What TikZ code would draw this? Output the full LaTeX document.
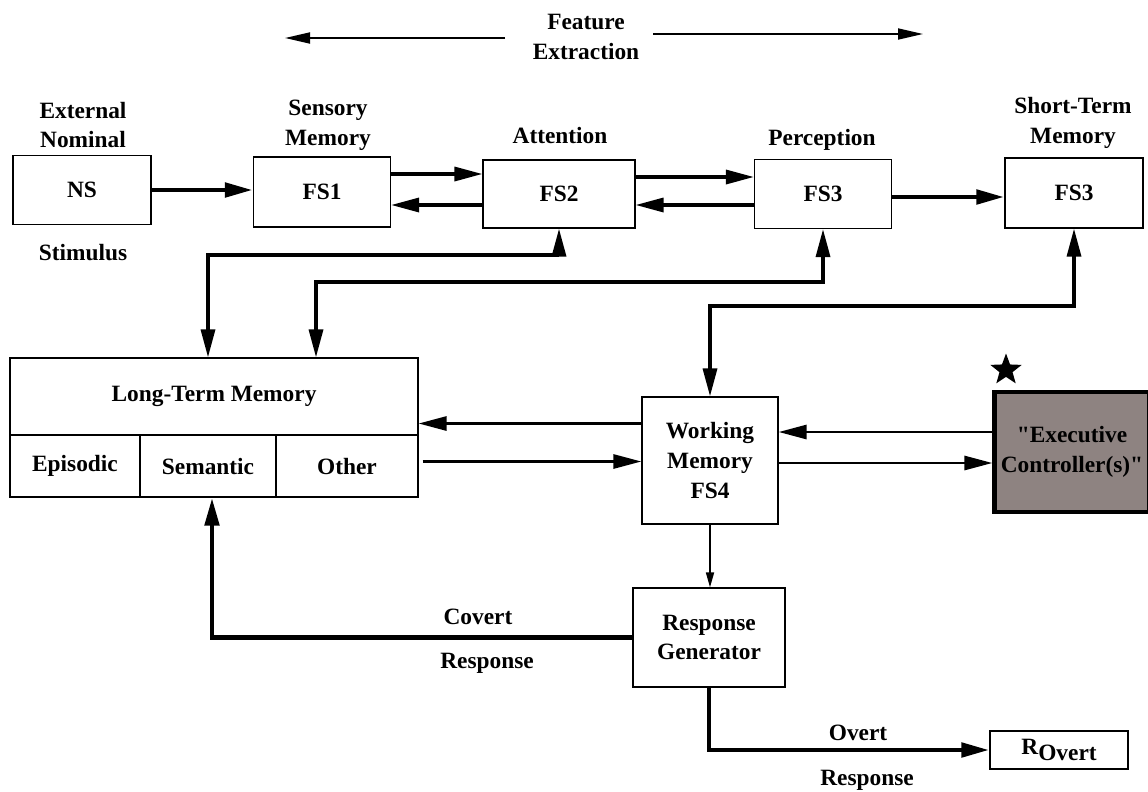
\documentclass[tikz,border=0pt]{standalone}
\usepackage{fontspec}
\setmainfont{Liberation Serif}[Ligatures=TeXOff]
\usepackage{tikz}
\usetikzlibrary{arrows.meta,shapes.geometric}
\definecolor{execgrey}{RGB}{142,131,129}

\begin{document}
\begin{tikzpicture}[x=0.02cm, y=-0.02cm, >={Triangle[length=0.56cm,width=0.28cm]},
    every node/.style={font=\fontsize{13.3}{17}\selectfont\bfseries},
    box/.style={draw, rectangle, line width=0.7pt, align=center, inner sep=0pt},
    lbl/.style={align=center, inner sep=0pt},
    heavy/.style={->, line width=2.8pt},
    medium/.style={->, line width=1.9pt},
    light/.style={->, line width=1pt}]
    \useasboundingbox (0,0) rectangle (1148,791);

    % top row
    \node [box, minimum width=2.76cm, minimum height=1.38cm] (NS) at (82,190) {NS};
    \node [box, minimum width=2.74cm, minimum height=1.40cm] (FS1) at (322,192) {FS1};
    \node [box, minimum width=3.04cm, minimum height=1.36cm] (FS2) at (559,194) {FS2};
    \node [box, minimum width=2.74cm, minimum height=1.38cm] (FS3) at (823,194) {FS3};
    \node [box, minimum width=2.76cm, minimum height=1.40cm] (STM) at (1074,193) {FS3};

    \node [lbl] (ext) at (83,125) {External\\Nominal};
    \node [lbl] (stim) at (83,253) {Stimulus};
    \node [lbl] (sens) at (328,125) {Sensory\\Memory};
    \node [lbl] (att) at (560,136) {Attention};
    \node [lbl] (perc) at (822,140) {Perception};
    \node [lbl] (stmlbl) at (1073,123) {Short-Term\\Memory};
    \node [lbl] (feat) at (586,37) {Feature\\Extraction};

    % long-term memory
    \node [box, minimum width=8.16cm, minimum height=1.54cm] (LTM) at (214,396.5) {Long-Term Memory};
    \node [box, minimum width=2.60cm, minimum height=1.24cm] (EPI) at (75,466) {Episodic};
    \node [box, minimum width=2.72cm, minimum height=1.24cm] (SEM) at (208,466) {Semantic};
    \node [box, minimum width=2.84cm, minimum height=1.24cm] (OTH) at (347,466) {Other};

    % working memory and controllers
    \node [box, minimum width=2.72cm, minimum height=2.54cm] (WM) at (710,460.5) {Working\\Memory\\FS4};
    \node [box, line width=2.4pt, fill=execgrey, minimum width=3.1cm, minimum height=2.4cm] (EC) at (1072,452) {"Executive\\Controller(s)"};
    \node [star, star points=5, star point ratio=2.4, fill=black, inner sep=0pt, minimum size=0.66cm] (STAR) at (1006,370) {};

    % responses
    \node [box, minimum width=3.04cm, minimum height=1.98cm] (RG) at (709,637.5) {Response\\Generator};
    \node [box, minimum width=2.76cm, minimum height=0.76cm] (ROV) at (1059,750) {R\raisebox{-0.5ex}{Overt}};
    \node [lbl] (cov) at (478,617) {Covert};
    \node [lbl] (covr) at (487,663) {Response};
    \node [lbl] (ov) at (858,733) {Overt};
    \node [lbl] (ovr) at (867,780) {Response};

    % feature extraction arrows
    \coordinate (fl1) at (505,38);
    \coordinate (fl2) at (285,38);
    \coordinate (fr1) at (653,34);
    \coordinate (fr2) at (923,34);
    \draw [light, >={Triangle[length=0.5cm,width=0.22cm]}] (fl1) -- (fl2);
    \draw [light, >={Triangle[length=0.5cm,width=0.22cm]}] (fr1) -- (fr2);

    \draw [heavy] (NS.east) -- (NS.east -| FS1.west);
    \draw [medium] ([yshift=0.36cm]FS1.east) -- ([yshift=0.36cm]FS1.east -| FS2.west);
    \draw [medium] ([yshift=-0.22cm]FS2.west) -- ([yshift=-0.22cm]FS2.west -| FS1.east);
    \draw [medium] ([yshift=0.34cm]FS2.east) -- ([yshift=0.34cm]FS2.east -| FS3.west);
    \draw [medium] ([yshift=-0.22cm]FS3.west) -- ([yshift=-0.22cm]FS3.west -| FS2.east);
    \draw [heavy] ([yshift=-0.06cm]FS3.east) -- ([yshift=-0.06cm]FS3.east -| STM.west);

    % feedback loops
    \coordinate (ca) at (208,255);
    \coordinate (cb) at (316,282);
    \coordinate (cc) at (1074,306);
    \draw [medium, <->] (FS2.south) |- (ca) -- (ca |- LTM.north);
    \draw [medium, <->] (FS3.south) |- (cb) -- (cb |- LTM.north);
    \draw [medium, <->] (STM.south) |- (cc) -| (WM.north);

    \draw [medium, line width=1.6pt] ([yshift=0.74cm]WM.west) -- ([yshift=0.74cm]WM.west -| LTM.east);
    \draw [medium, line width=1.6pt] ([xshift=0.08cm, yshift=-0.02cm]WM.west -| OTH.east) -- ([yshift=-0.02cm]WM.west);
    \draw [medium, line width=1.6pt] ([yshift=0.4cm]EC.west) -- ([yshift=0.4cm]EC.west -| WM.east);
    \draw [medium, line width=1.6pt] ([yshift=-0.22cm]EC.west -| WM.east) -- ([yshift=-0.22cm]EC.west);

    \draw [light, >={Triangle[length=0.3cm,width=0.16cm]}] (WM.south) -- (WM.south |- RG.north);
    \draw [heavy] (RG.west) -| ([xshift=0.08cm]SEM.south);
    \draw [heavy] (RG.south) |- (ROV.west);
\end{tikzpicture}
\end{document}
